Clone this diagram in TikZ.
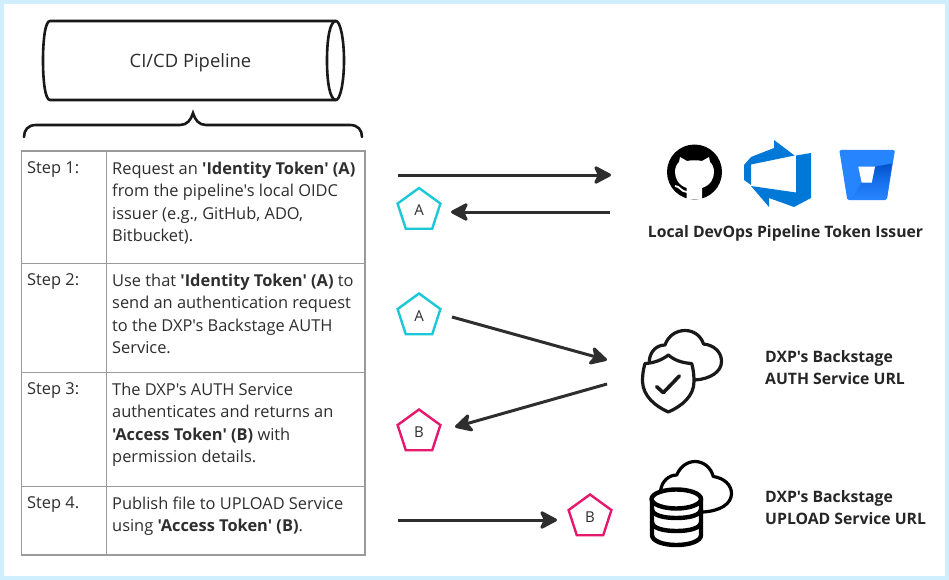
\documentclass[tikz,border=0pt]{standalone}
\usepackage{fontspec}
\setmainfont{Open Sans}[Ligatures=TeXOff]
\usetikzlibrary{arrows.meta,shapes.geometric}
\definecolor{bgblue}{HTML}{CFEFFF}
\definecolor{cellgray}{HTML}{9A9A9A}
\definecolor{inkdark}{HTML}{2E2E2E}
\definecolor{tealtok}{HTML}{1CC8D8}
\definecolor{pinktok}{HTML}{E5186E}
\definecolor{azureblue}{HTML}{0078D7}
\definecolor{bbblue}{HTML}{2684FF}
\definecolor{bbdark}{HTML}{0052CC}
\tikzset{
  flow/.style={draw=inkdark,line width=3pt,-{Stealth[length=20pt,width=21pt,inset=5pt,round]}},
  token/.style={regular polygon,regular polygon sides=5,draw=#1,line width=2.4pt,fill=white,
    minimum size=45pt,inner sep=0pt,text=inkdark,font=\fontsize{15}{15}\selectfont},
  steptxt/.style={anchor=north west,inner sep=0pt,align=left,text=inkdark,
    font=\fontsize{16.4}{22.5}\selectfont},
  head/.style={anchor=west,inner sep=0pt,align=left,text=black!85,
    font=\fontsize{15.75}{22}\selectfont\bfseries},
  cellgrid/.style={draw=cellgray,line width=1.2pt},
  icon/.style={line width=3.2pt,line join=round,line cap=round},
}
\begin{document}
\begin{tikzpicture}[x=1pt,y=-1pt]
\useasboundingbox (0,0) rectangle (949,580);
\fill[bgblue] (0,0) rectangle (949,580);
\fill[white] (4,4) rectangle (945,576);

% cylinder
\draw[black!90,line width=2.6pt,line join=round]
  (50,21) -- (336,21) .. controls (340,21) and (344,38) .. (344,60.5)
  .. controls (344,83) and (340,100) .. (336,100) -- (50,100)
  .. controls (45,100) and (43,80) .. (43,60.5) .. controls (43,41) and (45,21) .. (50,21) -- cycle;
\draw[black!90,line width=2.6pt] (336,21) .. controls (330,21) and (327,38) .. (327,60.5)
  .. controls (327,83) and (330,100) .. (336,100);
\node[inner sep=0pt,text=inkdark,font=\fontsize{18.4}{20}\selectfont] (pipe) at (190.5,62.5) {CI/CD Pipeline};

% brace
\draw[black!90,line width=2.6pt,line cap=round]
  (24,137) .. controls (24,130) and (28,125) .. (36,125) -- (180,125)
  .. controls (187,125) and (191,120) .. (193,113)
  .. controls (195,120) and (199,125) .. (206,125) -- (350,125)
  .. controls (358,125) and (362,130) .. (362,137);

% table
\draw[cellgrid] (21.5,151) rectangle (365,555);
\draw[cellgrid] (106.5,151) -- (106.5,555);
\draw[cellgrid] (21.5,263.5) -- (365,263.5);
\draw[cellgrid] (21.5,372.5) -- (365,372.5);
\draw[cellgrid] (21.5,486.5) -- (365,486.5);

\node[steptxt] (s1) at (27,161.7) {Step 1:};
\node[steptxt] (t1) at (112,161.7) {Request an \textbf{'Identity Token' (A)}\\from the pipeline's local OIDC\\issuer (e.g., GitHub, ADO,\\Bitbucket).};
\node[steptxt] (s2) at (27,273.7) {Step 2:};
\node[steptxt] (t2) at (112,273.7) {Use that \textbf{'Identity Token' (A)} to\\send an authentication request\\to the DXP's Backstage AUTH\\Service.};
\node[steptxt] (s3) at (27,382.7) {Step 3:};
\node[steptxt] (t3) at (112,382.7) {The DXP's AUTH Service\\authenticates and returns an\\\textbf{'Access Token' (B)} with\\permission details.};
\node[steptxt] (s4) at (27,496.7) {Step 4.};
\node[steptxt] (t4) at (112,496.7) {Publish file to UPLOAD Service\\using \textbf{'Access Token' (B)}.};

% tokens
\node[token=tealtok] (tokA1) at (419,210.5) {\raisebox{-1.5pt}{A}};
\node[token=tealtok] (tokA2) at (419,316) {\raisebox{-1.5pt}{A}};
\node[token=pinktok] (tokB1) at (419,432) {\raisebox{-1.5pt}{B}};
\node[token=pinktok] (tokB2) at (590,517) {\raisebox{-1.5pt}{B}};

% connector ends
\coordinate (a1s) at (398,175);
\coordinate (a1e) at (611,175);
\coordinate (a2s) at (610,212);
\coordinate (a2e) at (451,212);
\coordinate (a3s) at (452,317);
\coordinate (a3e) at (607,360);
\coordinate (a4s) at (607,384);
\coordinate (a4e) at (455,427);
\coordinate (a5s) at (398,520);
\coordinate (a5e) at (557,520);
\draw[flow] (a1s) -- (a1e);
\draw[flow] (a2s) -- (a2e);
\draw[flow] (a3s) -- (a3e);
\draw[flow] (a4s) -- (a4e);
\draw[flow] (a5s) -- (a5e);

% GitHub
\fill[black] (694.5,172) circle[radius=27.5];
\fill[white] (686.7,199) -- (686.7,188) .. controls (678,185) and (675,178) .. (675,172)
  .. controls (675,167) and (677,164) .. (679,162) -- (680,157) -- (687,161)
  .. controls (691,160) and (698,160) .. (702,161) -- (709,157) -- (710,162)
  .. controls (712,164) and (714,167) .. (714,172) .. controls (714,178) and (711,185) .. (702,188)
  -- (702,199) -- cycle;
\draw[white,line width=1.8pt] (675,186) .. controls (680,186) and (681,192) .. (687,192);

% Azure DevOps
\fill[azureblue] (774,140) -- (794.5,155.5) -- (751,164.5) -- (751,185) -- (744,180) -- (744,165)
  -- (751,157) -- (774,148) -- cycle;
\fill[azureblue] (796,155.5) -- (811,153) -- (811,198) -- (794,207) -- (769,198) -- (769,207)
  -- (751,186) -- (796,192.5) -- cycle;

% Bitbucket
\fill[bbblue,rounded corners=1.5pt] (839.3,150) -- (895,150) -- (886.7,200) -- (847.3,200) -- cycle;
\shade[top color=bbdark,bottom color=bbblue,middle color=bbblue!60!bbdark]
  (875,166.7) -- (892,163.5) -- (887,198) -- (852,199) -- (861.7,182.7) -- (871.7,182.7) -- cycle;
\fill[white] (858.3,166.7) -- (875,166.7) -- (871.7,182.7) -- (861.7,182.7) -- cycle;

\node[anchor=center,inner sep=0pt,text=black!85,font=\fontsize{15.75}{18}\selectfont\bfseries] (issuer) at (785.5,233) {Local DevOps Pipeline Token Issuer};

% AUTH cloud + shield
\draw[icon,black!90] (649.3,361) .. controls (650,351) and (657,345) .. (665,345)
  .. controls (668,336) and (676,330.5) .. (685,330.5)
  .. controls (694,330.5) and (701,336) .. (703.5,344)
  .. controls (714,345) and (721.5,352) .. (721.5,361.5)
  .. controls (721.5,372) and (710,379) .. (695,380);
\draw[icon,black!90,fill=white] (668.3,355) .. controls (662,360) and (654,363) .. (645,363.5)
  .. controls (643,370) and (642.5,376) .. (642.5,381.5)
  .. controls (643,396) and (655,406) .. (668.3,412)
  .. controls (682,406) and (694,396) .. (694,381.5)
  .. controls (694,376) and (693.5,370) .. (691.7,363.5)
  .. controls (682,363) and (674,360) .. (668.3,355) -- cycle;
\draw[icon,black!90,line width=3.6pt] (656.7,386.7) -- (663.3,392.7) -- (679.3,376);

% UPLOAD cloud + database
\draw[icon,black] (660.7,490) .. controls (662,481) and (669,475) .. (676.7,475)
  .. controls (680,467) and (687,461.5) .. (695,461.5)
  .. controls (704,461.5) and (711,468) .. (713.3,476.5)
  .. controls (724,478) and (731.5,485) .. (731.5,493.5)
  .. controls (731.5,504) and (720,511) .. (703,512);
\draw[black,line width=4.4pt,fill=white] (652,499) -- (652,535)
  .. controls (652,541) and (663,545) .. (676.3,545)
  .. controls (690,545) and (701,541) .. (701,535) -- (701,499);
\draw[black,line width=4.4pt,fill=white] (676.3,499) ellipse[x radius=24.7,y radius=9.5];
\draw[black,line width=4.4pt] (652,509) .. controls (652,515) and (663,518) .. (676.3,518)
  .. controls (690,518) and (701,515) .. (701,509);
\draw[black,line width=4.4pt] (652,522) .. controls (652,528) and (663,531) .. (676.3,531)
  .. controls (690,531) and (701,528) .. (701,522);

\node[head] (auth) at (765,367.5) {DXP's Backstage\\AUTH Service URL};
\node[head] (upload) at (765,507.5) {DXP's Backstage\\UPLOAD Service URL};
\end{tikzpicture}
\end{document}
